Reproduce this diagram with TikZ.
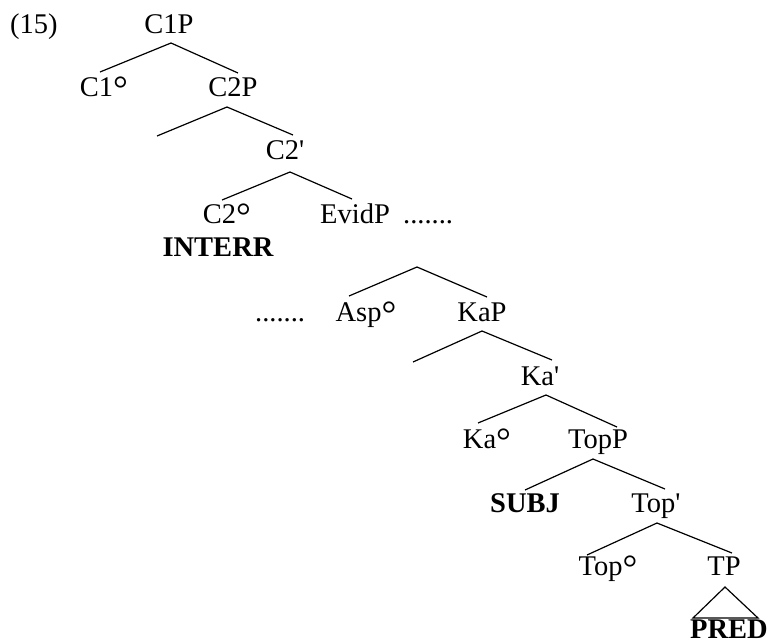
\documentclass[tikz,border=0pt]{standalone}
\usepackage{fontspec}
\setmainfont{Liberation Serif}[Ligatures=TeXOff]
\newcommand{\dg}{\smash{\raisebox{-0.20em}{\scalebox{1.3}{°}}}}
\begin{document}
\begin{tikzpicture}[x=1pt,y=-1pt,
  lab/.style={anchor=base,inner sep=0pt,font=\fontsize{28.5}{34}\selectfont},
  blab/.style={lab,font=\fontsize{28.5}{34}\selectfont\bfseries},
  br/.style={line width=1.2pt}]
\useasboundingbox (0,0) rectangle (774,643);
% labels
\node[lab,anchor=base west] (ex) at (10,33) {(15)};
\node[lab] (c1p) at (169,33) {C1P};
\node[lab] (c1h) at (104,96) {C1\dg};
\node[lab] (c2p) at (233,96) {C2P};
\node[lab] (c2b) at (285,159) {C2'};
\node[lab] (c2h) at (227,223) {C2\dg};
\node[lab] (evid) at (355,223) {EvidP};
\node[lab,anchor=base west] (dots1) at (403,223) {.......};
\node[blab] (interr) at (218,256) {INTERR};
\node[lab,anchor=base west] (dots2) at (255,321) {.......};
\node[lab] (asp) at (366,321) {Asp\dg};
\node[lab] (kap) at (482,321) {KaP};
\node[lab] (kab) at (540,385) {Ka'};
\node[lab] (kah) at (487,448) {Ka\dg};
\node[lab] (topp) at (598,448) {TopP};
\node[blab] (subj) at (525,512) {SUBJ};
\node[lab] (topb) at (656,512) {Top'};
\node[lab] (toph) at (608,575) {Top\dg};
\node[lab] (tp) at (724,575) {TP};
\node[blab] (pred) at (729,638) {PRED};
% branch points
\coordinate (a1) at (171,43);  \coordinate (l1) at (100,72);  \coordinate (r1) at (238,73);
\coordinate (a2) at (227,107); \coordinate (l2) at (157,136); \coordinate (r2) at (293,135);
\coordinate (a3) at (290,172); \coordinate (l3) at (222,200); \coordinate (r3) at (352,199);
\coordinate (a4) at (417,267); \coordinate (l4) at (349,296); \coordinate (r4) at (487,297);
\coordinate (a5) at (482,331); \coordinate (l5) at (413,362); \coordinate (r5) at (552,360);
\coordinate (a6) at (546,395); \coordinate (l6) at (478,423); \coordinate (r6) at (617,427);
\coordinate (a7) at (593,459); \coordinate (l7) at (525,490); \coordinate (r7) at (665,489);
\coordinate (a8) at (657,523); \coordinate (l8) at (587,555); \coordinate (r8) at (732,553);
\coordinate (a9) at (725,587); \coordinate (l9) at (693,618); \coordinate (r9) at (758,618);
\foreach \i in {1,...,8} {\draw[br] (l\i) -- (a\i) -- (r\i);}
\draw[br] (l9) -- (a9) -- (r9) -- cycle;
\end{tikzpicture}
\end{document}
